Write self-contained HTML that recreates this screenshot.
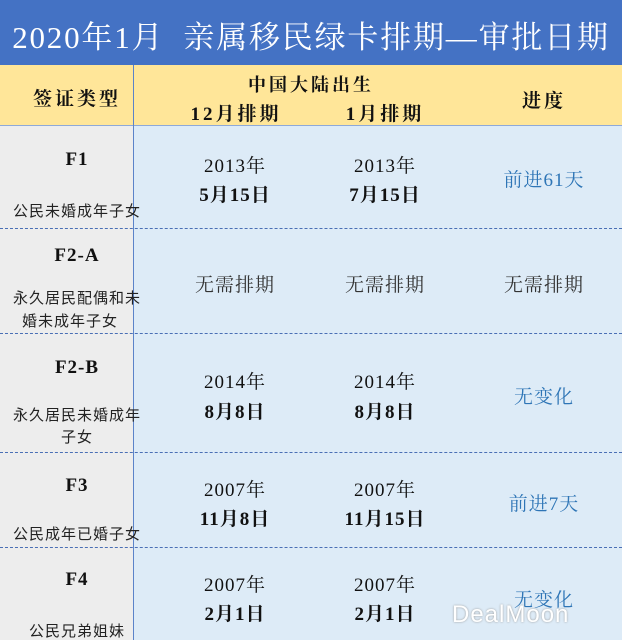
<!DOCTYPE html>
<html><head><meta charset="utf-8"><style>
body{margin:0;width:622px;height:640px;overflow:hidden;position:relative;font-family:"Liberation Serif","Noto Serif CJK SC",serif;color:#111}
div{position:absolute}
.t{white-space:nowrap;transform:translateX(-50%)}
.b{font-weight:bold}
.s{font-size:15px;color:#222;font-family:"Liberation Sans","Noto Sans CJK SC",sans-serif;letter-spacing:1px}
.m{font-size:19px;letter-spacing:1px}
.p{font-size:19px;color:#2e75b6;letter-spacing:1px}
.sep{left:0;width:622px;border-top:1px dashed #4a6fb5;height:0}
</style></head><body>
<div style="left:0;top:0;width:622px;height:65px;background:#4472c4"></div>
<div class="t" style="left:311px;top:12px;font-size:31px;color:#fff;letter-spacing:1.8px">2020年1月&nbsp; 亲属移民绿卡排期—审批日期</div>
<div style="left:0;top:65px;width:622px;height:60px;background:#ffe699;border-bottom:1px solid #8ea9d8"></div>
<div style="left:0;top:126px;width:133px;height:514px;background:#ededed"></div>
<div style="left:134px;top:126px;width:488px;height:514px;background:#ddebf7"></div>
<div style="left:133px;top:65px;width:1px;height:575px;background:#5b83c9"></div>
<div class="sep" style="top:228px"></div>
<div class="sep" style="top:333px"></div>
<div class="sep" style="top:452px"></div>
<div class="sep" style="top:547px"></div>

<div class="t b" style="left:77px;top:84px;font-size:19px;letter-spacing:3px">签证类型</div>
<div class="t b" style="left:311px;top:71px;font-size:18px;letter-spacing:3px">中国大陆出生</div>
<div class="t b" style="left:236px;top:99px;font-size:19px;letter-spacing:3px">12月排期</div>
<div class="t b" style="left:385px;top:99px;font-size:19px;letter-spacing:3px">1月排期</div>
<div class="t b" style="left:544px;top:86px;font-size:19px;letter-spacing:3px">进度</div>

<!-- F1 -->
<div class="t b m" style="left:77px;top:149px">F1</div>
<div class="t s" style="left:77px;top:200px">公民未婚成年子女</div>
<div class="t m" style="left:235px;top:151px">2013年</div>
<div class="t m b" style="left:235px;top:180px">5月15日</div>
<div class="t m" style="left:385px;top:151px">2013年</div>
<div class="t m b" style="left:385px;top:180px">7月15日</div>
<div class="t p" style="left:544px;top:165px">前进61天</div>

<!-- F2A -->
<div class="t b m" style="left:77px;top:245px">F2-A</div>
<div class="t s" style="left:77px;top:287px">永久居民配偶和未</div>
<div class="t s" style="left:70px;top:310px">婚未成年子女</div>
<div class="t m" style="left:235px;top:270px;color:#333">无需排期</div>
<div class="t m" style="left:385px;top:270px;color:#333">无需排期</div>
<div class="t m" style="left:544px;top:270px;color:#333">无需排期</div>

<!-- F2B -->
<div class="t b m" style="left:77px;top:357px">F2-B</div>
<div class="t s" style="left:77px;top:404px">永久居民未婚成年</div>
<div class="t s" style="left:77px;top:426px">子女</div>
<div class="t m" style="left:235px;top:367px">2014年</div>
<div class="t m b" style="left:235px;top:397px">8月8日</div>
<div class="t m" style="left:385px;top:367px">2014年</div>
<div class="t m b" style="left:385px;top:397px">8月8日</div>
<div class="t p" style="left:544px;top:382px">无变化</div>

<!-- F3 -->
<div class="t b m" style="left:77px;top:475px">F3</div>
<div class="t s" style="left:77px;top:523px">公民成年已婚子女</div>
<div class="t m" style="left:235px;top:475px">2007年</div>
<div class="t m b" style="left:235px;top:504px">11月8日</div>
<div class="t m" style="left:385px;top:475px">2007年</div>
<div class="t m b" style="left:385px;top:504px">11月15日</div>
<div class="t p" style="left:544px;top:489px">前进7天</div>

<!-- F4 -->
<div class="t b m" style="left:77px;top:569px">F4</div>
<div class="t s" style="left:77px;top:620px">公民兄弟姐妹</div>
<div class="t m" style="left:235px;top:570px">2007年</div>
<div class="t m b" style="left:235px;top:599px">2月1日</div>
<div class="t m" style="left:385px;top:570px">2007年</div>
<div class="t m b" style="left:385px;top:599px">2月1日</div>
<div class="t p" style="left:544px;top:585px">无变化</div>

<div style="left:452px;top:601px;font-size:24px;color:#fff;font-family:'Liberation Sans',sans-serif;letter-spacing:1px;text-shadow:0 0 2px #999">DealMoon</div>
</body></html>
